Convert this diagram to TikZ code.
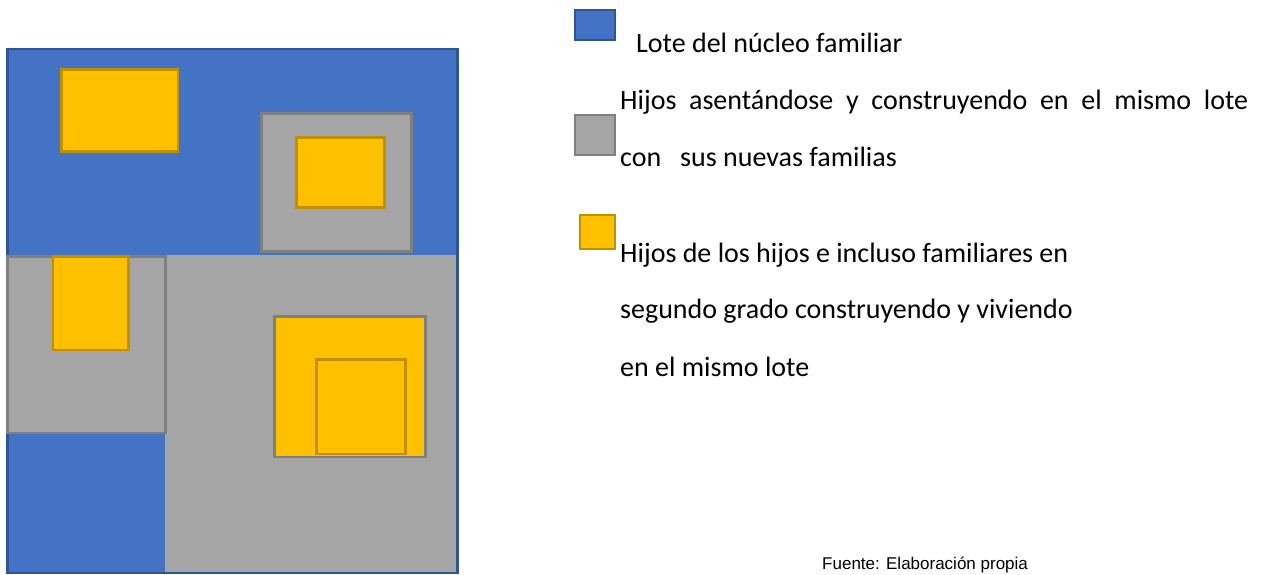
\documentclass[tikz,border=0pt]{standalone}
\usepackage{fontspec}
\setmainfont{Carlito}
\newfontfamily\fuentefont{Liberation Sans}
\definecolor{loteazul}{HTML}{4472C4}
\definecolor{loteborde}{HTML}{2F5597}
\definecolor{hijogris}{HTML}{A5A5A5}
\definecolor{hijoborde}{HTML}{7F7F7F}
\definecolor{nietoamarillo}{HTML}{FFC000}
\definecolor{nietoborde}{HTML}{BF9000}

\begin{document}
\begin{tikzpicture}[x=1pt, y=-1pt,
  lote/.style={fill=loteazul, draw=loteborde, line width=2.5pt},
  hijo/.style={fill=hijogris, draw=hijoborde, line width=2.5pt},
  nieto/.style={fill=nietoamarillo, draw=nietoborde, line width=2.5pt},
  muestra/.style={inner sep=0pt, line width=2pt},
  leyenda/.style={anchor=base west, inner sep=0pt, font=\fontsize{28}{34}\selectfont}]
  \useasboundingbox (0,0) rectangle (1265,574);
  % el lote
  \draw[lote] (7.5,49) rectangle (457.5,573);
  \fill[hijogris] (165,254.5) rectangle (456,571.5);
  % hijos
  \draw[hijo] (261.5,113.5) rectangle (411.5,251.5);
  \draw[hijo] (7.5,256.5) rectangle (165.5,433);
  % nietos
  \draw[nieto] (61.5,69.5) rectangle (178,151.5);
  \draw[nieto] (296.5,137.5) rectangle (384.5,207.5);
  \draw[nieto] (53,256.5) rectangle (128.5,350);
  \draw[nieto, draw=hijoborde] (274.5,316.5) rectangle (425.5,457);
  \draw[nieto] (316.5,359.5) rectangle (405.5,454);
  % leyenda
  \node[lote, muestra, minimum width=40pt, minimum height=30pt] (mlote) at (594.5,24.5) {};
  \node[hijo, muestra, minimum width=40pt, minimum height=40pt] (mhijo) at (594.5,134.5) {};
  \node[nieto, muestra, minimum width=35pt, minimum height=34pt] (mnieto) at (597,231.5) {};
  \node[leyenda] (tlote) at (636,52) {Lote del núcleo familiar};
  \node[leyenda] (thijo1) at (620,109)
    {\makebox[628pt][s]{Hijos asentándose y construyendo en el mismo lote}};
  \node[leyenda] (thijo2) at (620,166) {con\ \ \ sus nuevas familias};
  \node[leyenda] (tnieto1) at (620,262) {Hijos de los hijos e incluso familiares en};
  \node[leyenda] (tnieto2) at (620,318) {segundo grado construyendo y viviendo};
  \node[leyenda] (tnieto3) at (620,376) {en el mismo lote};
  \node[anchor=base west, inner sep=0pt, font=\fuentefont\fontsize{17}{20}\selectfont]
    (fuente) at (822,569) {Fuente: Elaboración propia};
\end{tikzpicture}
\end{document}
